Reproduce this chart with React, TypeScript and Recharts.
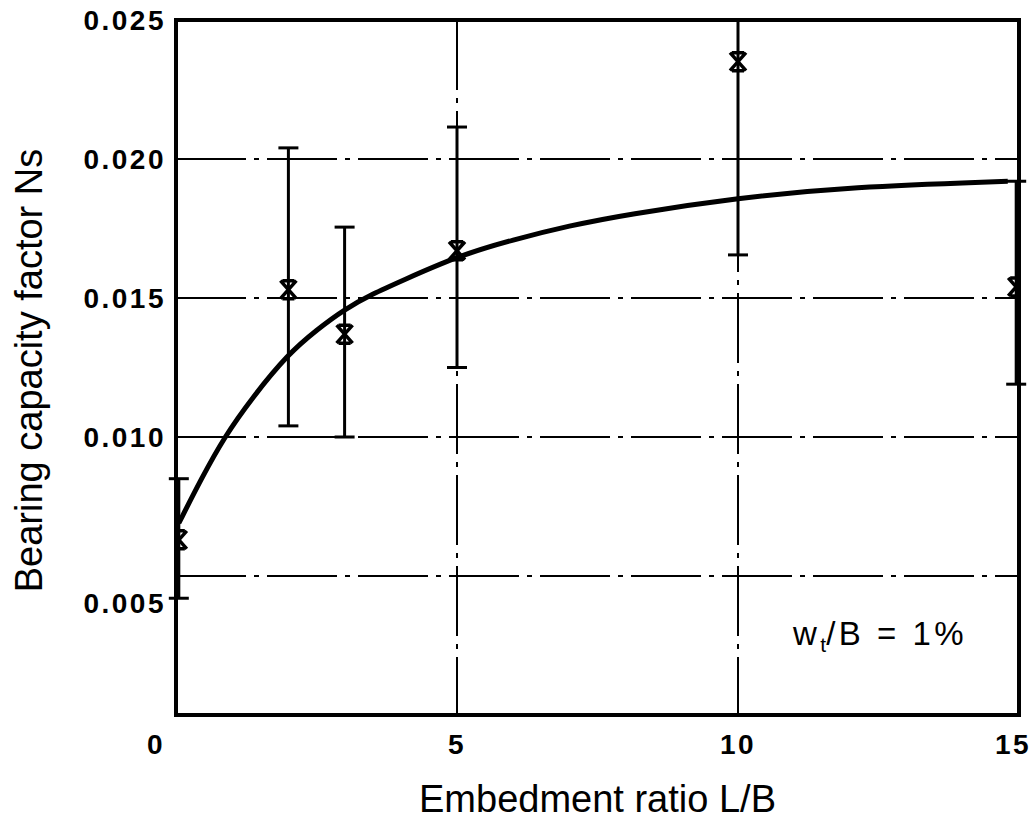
import React from 'react';
import {
  ComposedChart,
  Line,
  Scatter,
  ErrorBar,
  XAxis,
  YAxis,
  CartesianGrid,
  ReferenceArea
} from 'recharts';

// axis ticks
const xTicks = [0, 5, 10, 15];
const yTicks = [0.005, 0.01, 0.015, 0.02, 0.025];
const yTickLabels = ['0.005', '0.010', '0.015', '0.020', '0.025'];

// measured points (mean, lower and upper end of the scatter band)
const ratioLB = [0.05, 2, 3, 5, 10, 14.95];
const nsMeasured = [0.0063, 0.0153, 0.0137, 0.0167, 0.0235, 0.0154];
const nsLow = [0.0042, 0.0104, 0.01, 0.0125, 0.01655, 0.0119];
const nsHigh = [0.0085, 0.0204, 0.01755, 0.02115, 0.025, 0.0192];

// fitted curve
const fitLB = [0.05, 0.45, 0.86, 1.35, 2, 2.5, 3, 3.5, 4, 5, 6, 7, 8, 10, 12, 14.8];
const fitNs = [0.0069, 0.0085, 0.01, 0.0114, 0.013, 0.01385, 0.0146, 0.01515, 0.0156, 0.0165, 0.0171, 0.0176, 0.018, 0.0186, 0.019, 0.0192];

const pointData = ratioLB.map((x, i) => ({
  x,
  ns: nsMeasured[i],
  err: [nsMeasured[i] - nsLow[i], nsHigh[i] - nsMeasured[i]]
}));

const fitData = fitLB.map((x, i) => ({ x, ns: fitNs[i] }));

const FONT = '"Liberation Sans", Arial, Helvetica, sans-serif';

const XMarker = (props: any) => {
  const { cx, cy } = props;
  if (cx == null || cy == null) return null;
  return (
    <path
      d={`M${cx - 8},${cy - 9}L${cx + 8},${cy + 9}M${cx + 8},${cy - 9}L${cx - 8},${cy + 9}M${cx - 6},${cy - 9}H${cx + 6}M${cx - 6},${cy + 9}H${cx + 6}`}
      stroke="#000"
      strokeWidth={3.5}
      fill="none"
    />
  );
};

const XTick = (props: any) => {
  const { x, y, payload } = props;
  let shift = 0;
  if (payload.value === 0) shift = -20;
  if (payload.value === 15) shift = -6;
  return (
    <text x={x + shift} y={y + 31} textAnchor="middle" fontFamily={FONT} fontWeight="bold" fontSize={28} letterSpacing={2.5} fill="#000">
      {payload.value}
    </text>
  );
};

const YTick = (props: any) => {
  const { x, y, payload } = props;
  const idx = yTicks.indexOf(payload.value);
  const label = idx >= 0 ? yTickLabels[idx] : String(payload.value);
  const shift = payload.value === 0.005 ? 27 : 0;
  return (
    <text x={x - 2} y={y + 10 + shift} textAnchor="end" fontFamily={FONT} fontWeight="bold" fontSize={28} letterSpacing={2.5} fill="#000">
      {label}
    </text>
  );
};

const XTitle = (props: any) => {
  const vb = props.viewBox || {};
  return (
    <text x={vb.x + vb.width / 2} y={812} textAnchor="middle" fontFamily={FONT} fontSize={38} fill="#000">
      Embedment ratio L/B
    </text>
  );
};

const YTitle = (props: any) => {
  const vb = props.viewBox || {};
  const cy = vb.y + vb.height / 2 + 3;
  return (
    <text x={42} y={cy} transform={`rotate(-90 42 ${cy})`} textAnchor="middle" fontFamily={FONT} fontSize={38} fill="#000">
      Bearing capacity factor Ns
    </text>
  );
};

const gridDash = '70 8 5 8';

export default function App() {
  return (
    <div style={{ position: 'absolute', left: 0, top: 0, width: 1034, height: 822, background: '#fff' }}>
      <ComposedChart width={1034} height={822} margin={{ top: 20, right: 15, left: 0, bottom: 0 }}>
        <CartesianGrid stroke="#000" strokeWidth={2} strokeDasharray={gridDash} />
        <XAxis
          type="number"
          dataKey="x"
          domain={[0, 15]}
          ticks={xTicks}
          allowDataOverflow
          axisLine={false}
          tickLine={false}
          height={107}
          tick={<XTick />}
          label={<XTitle />}
        />
        <YAxis
          type="number"
          dataKey="ns"
          domain={[0, 0.025]}
          ticks={yTicks}
          allowDataOverflow
          axisLine={false}
          tickLine={false}
          width={176}
          tick={<YTick />}
          label={<YTitle />}
        />
        <ReferenceArea x1={0} x2={15} y1={0} y2={0.025} fill="none" stroke="#000" strokeWidth={4} />
        <Line
          data={fitData}
          dataKey="ns"
          type="basis"
          stroke="#000"
          strokeWidth={5}
          dot={false}
          isAnimationActive={false}
        />
        <Scatter data={pointData} dataKey="ns" shape={<XMarker />} isAnimationActive={false}>
          <ErrorBar dataKey="err" direction="y" width={10} stroke="#000" strokeWidth={3} />
        </Scatter>
      </ComposedChart>
      <div
        style={{
          position: 'absolute',
          left: 793,
          top: 615,
          fontFamily: FONT,
          fontSize: 33,
          letterSpacing: 3.5,
          color: '#000',
          whiteSpace: 'nowrap'
        }}
      >
        w<sub style={{ fontSize: 21, verticalAlign: -7, letterSpacing: 0 }}>t</sub>/B = 1%
      </div>
    </div>
  );
}
